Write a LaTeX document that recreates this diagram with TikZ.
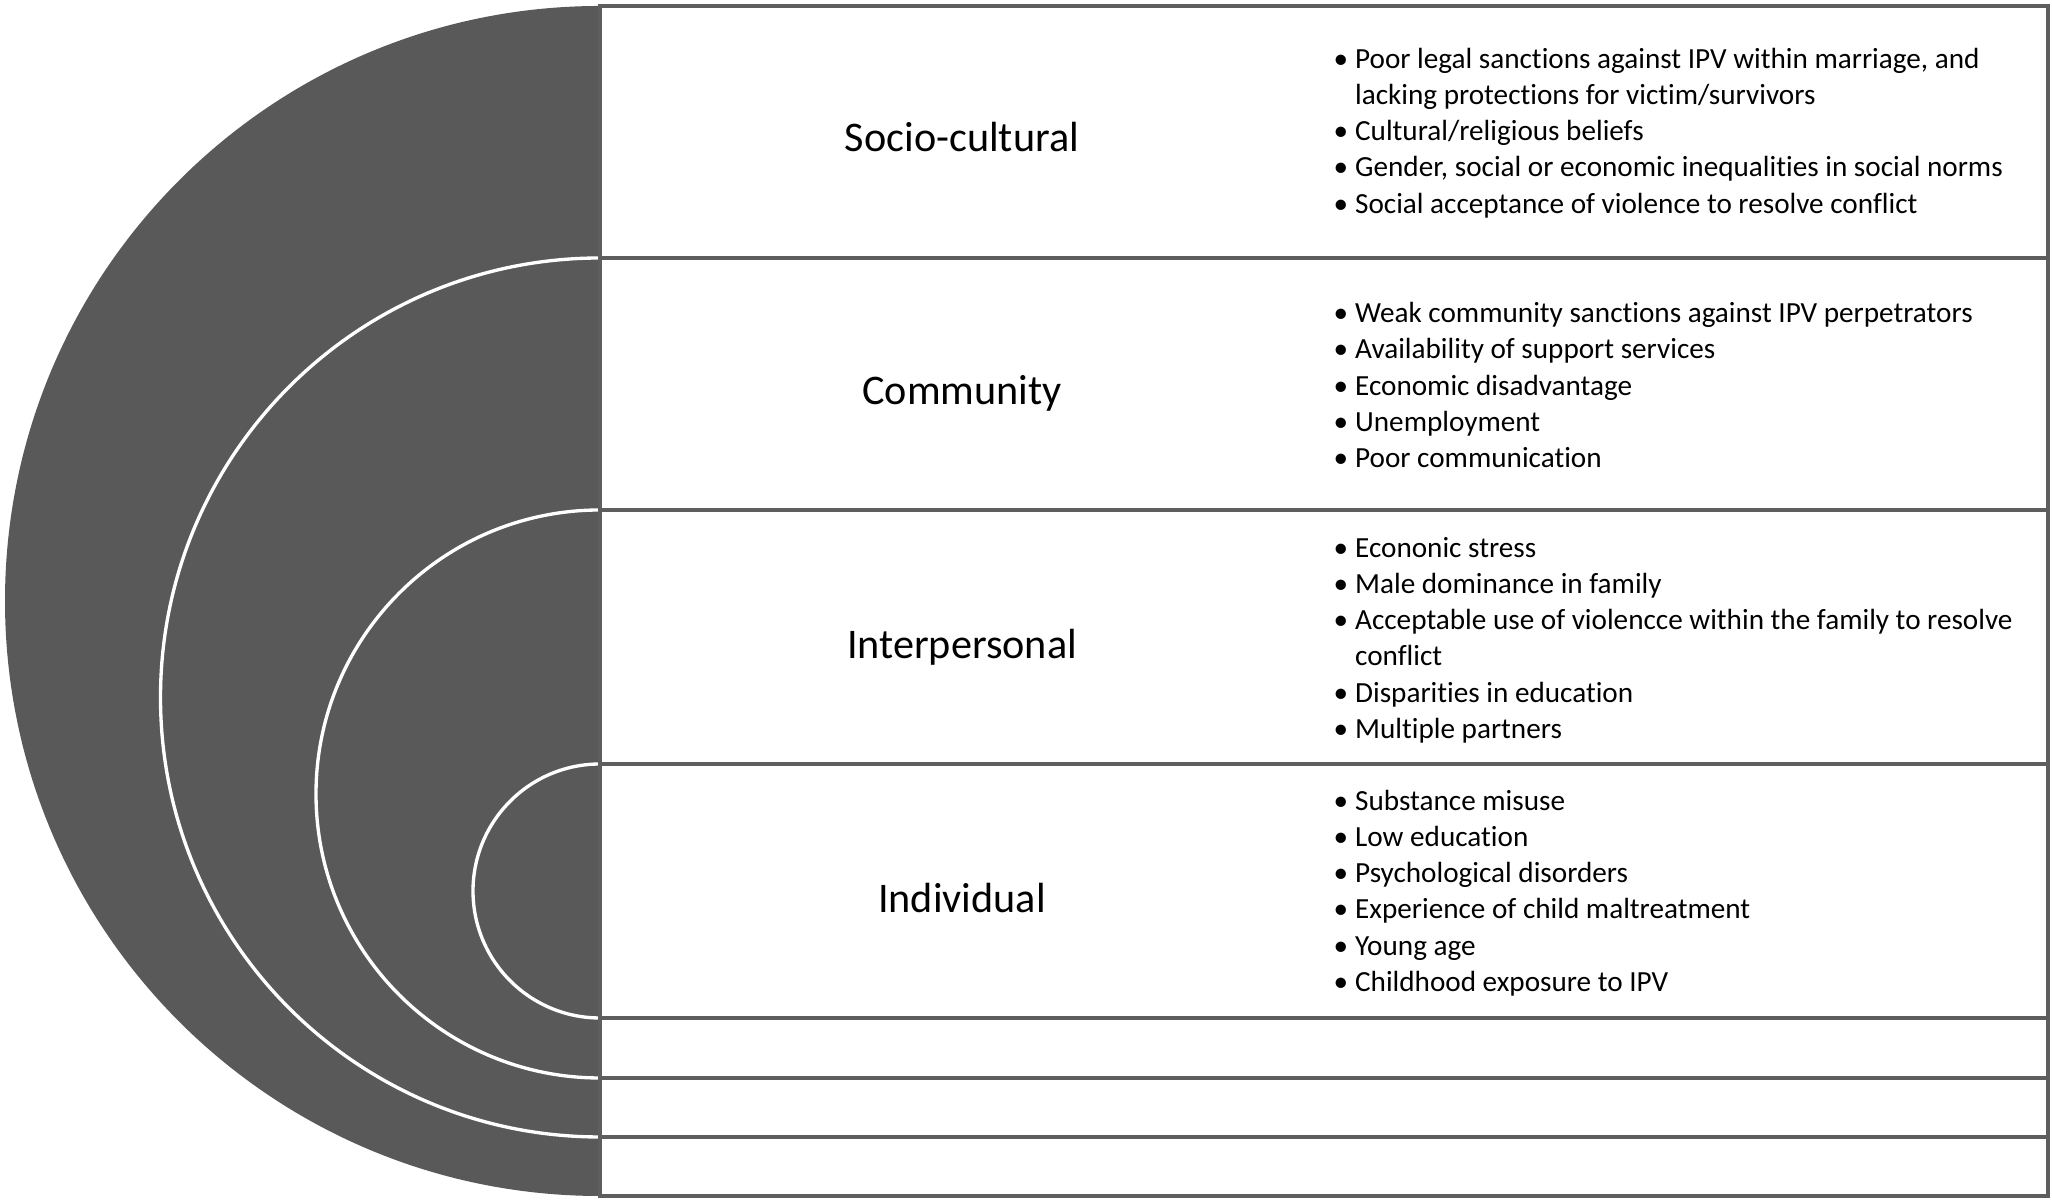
\documentclass[tikz,border=0pt]{standalone}
\usepackage{fontspec}
\setmainfont{Carlito}[Ligatures=NoCommon]
\definecolor{disk}{HTML}{595959}
\definecolor{frame}{HTML}{5E5E5E}
\newcommand{\bitem}[1]{\makebox[6.1pt][l]{\textbullet}#1}
\newcommand{\bcont}[1]{\hspace*{6.1pt}#1}
\begin{document}
\begin{tikzpicture}[x=0.01cm,y=0.01cm,
  rowbox/.style={draw=frame, line width=1.15pt},
  ring/.style={draw=white, line width=0.95pt},
  level/.style={font=\fontsize{12}{14}\selectfont, text=black, inner sep=0pt, anchor=base},
  factors/.style={anchor=west, align=left, inner sep=0pt, text=black, font=\fontsize{8.3}{10.3}\selectfont}]
\useasboundingbox (0,0) rectangle (2052,1201);
% half disk and rings
\fill[disk] (600,1195) arc[start angle=90,end angle=270,radius=595] -- cycle;
\draw[ring] (600,943) arc[start angle=90,end angle=270,radius=439.5];
\draw[ring] (600,691) arc[start angle=90,end angle=270,radius=284];
\draw[ring] (600,437) arc[start angle=90,end angle=270,radius=127];
% rows
\coordinate (r0) at (600,1195);
\coordinate (r1) at (2048,943);
\coordinate (r1l) at (600,943);
\coordinate (r2) at (2048,691);
\coordinate (r2l) at (600,691);
\coordinate (r3) at (2048,437);
\coordinate (r3l) at (600,437);
\coordinate (r4) at (2048,183);
\coordinate (r4l) at (600,183);
\coordinate (r5) at (2048,123);
\coordinate (r5l) at (600,123);
\coordinate (r6) at (2048,64);
\coordinate (r6l) at (600,64);
\coordinate (r7) at (2048,5);
\draw[rowbox] (r0) rectangle (r1);
\draw[rowbox] (r1l) rectangle (r2);
\draw[rowbox] (r2l) rectangle (r3);
\draw[rowbox] (r3l) rectangle (r4);
\draw[rowbox] (r4l) rectangle (r5);
\draw[rowbox] (r5l) rectangle (r6);
\draw[rowbox] (r6l) rectangle (r7);
% level labels
\node[level] (socio) at (962,1049) {Socio-cultural};
\node[level] (comm) at (962,796) {Community};
\node[level] (inter) at (962,542) {Interpersonal};
\node[level] (indiv) at (962,288) {Individual};
% factors
\node[factors] (fsocio) at (1333,1068) {\bitem{Poor legal sanctions against IPV within marriage, and}\\
\bcont{lacking protections for victim/survivors}\\
\bitem{Cultural/religious beliefs}\\
\bitem{Gender, social or economic inequalities in social norms}\\
\bitem{Social acceptance of violence to resolve conflict}};
\node[factors] (fcomm) at (1333,816) {\bitem{Weak community sanctions against IPV perpetrators}\\
\bitem{Availability of support services}\\
\bitem{Economic disadvantage}\\
\bitem{Unemployment}\\
\bitem{Poor communication}};
\node[factors] (finter) at (1333,561) {\bitem{Econonic stress}\\
\bitem{Male dominance in family}\\
\bitem{Acceptable use of violencce within the family to resolve}\\
\bcont{conflict}\\
\bitem{Disparities in education}\\
\bitem{Multiple partners}};
\node[factors] (findiv) at (1333,308) {\bitem{Substance misuse}\\
\bitem{Low education}\\
\bitem{Psychological disorders}\\
\bitem{Experience of child maltreatment}\\
\bitem{Young age}\\
\bitem{Childhood exposure to IPV}};
\end{tikzpicture}
\end{document}
